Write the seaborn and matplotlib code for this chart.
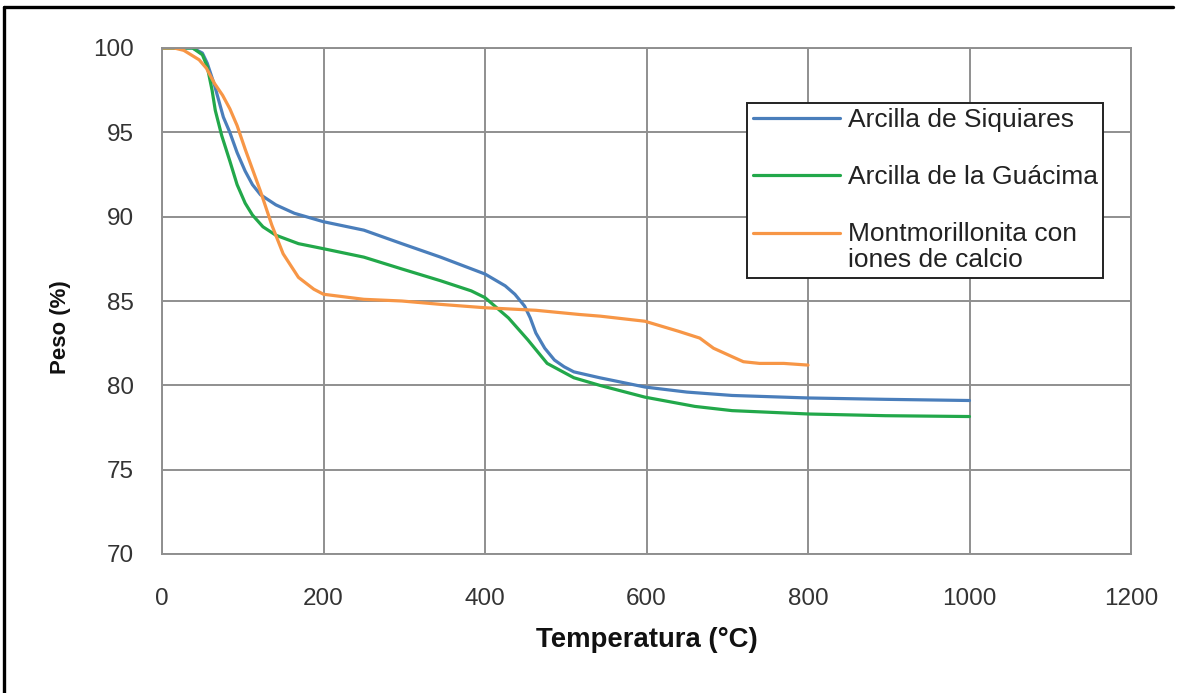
import numpy as np
import pandas as pd
import matplotlib
matplotlib.use("Agg")
import matplotlib.pyplot as plt
import seaborn as sns
from matplotlib.lines import Line2D

# ---- data ----
series_names = ["Arcilla de Siquiares", "Arcilla de la Guácima",
                "Montmorillonita con\niones de calcio"]
series_colors = ["#4a7ebb", "#22a84a", "#f79646"]

t_siquiares = [0, 20, 38, 50, 56, 65, 76, 84, 93, 103, 112, 122, 141, 164, 200, 250,
               297, 345, 400, 425, 437, 449, 456, 463, 474, 486, 498, 510, 542, 598,
               650, 706, 801, 896, 1000]
w_siquiares = [100, 100, 100, 99.7, 99.1, 97.8, 95.9, 95.0, 93.8, 92.7, 91.9, 91.3,
               90.7, 90.2, 89.7, 89.2, 88.4, 87.6, 86.6, 85.9, 85.4, 84.7, 84.0, 83.1,
               82.2, 81.5, 81.1, 80.8, 80.45, 79.9, 79.6, 79.4, 79.25, 79.17, 79.1]

t_guacima = [0, 20, 38, 50, 56, 62, 66, 74, 84, 93, 103, 112, 125, 141, 169, 200, 250,
             297, 345, 383, 400, 429, 453, 477, 510, 542, 598, 660, 706, 801, 896, 1000]
w_guacima = [100, 100, 100, 99.6, 98.9, 97.5, 96.3, 94.8, 93.3, 91.9, 90.8, 90.1,
             89.4, 88.9, 88.4, 88.1, 87.6, 86.9, 86.2, 85.6, 85.2, 84.0, 82.7, 81.3,
             80.45, 80.0, 79.3, 78.75, 78.5, 78.3, 78.2, 78.15]

t_montmo = [0, 15, 27, 46, 55, 65, 75, 84, 93, 103, 122, 136, 150, 169, 188, 200, 250,
            297, 345, 400, 463, 517, 543, 598, 612, 640, 666, 683, 706, 720, 740, 770, 800]
w_montmo = [100, 100, 99.86, 99.3, 98.8, 97.9, 97.2, 96.4, 95.4, 94.0, 91.5, 89.5,
            87.8, 86.4, 85.7, 85.4, 85.1, 85.0, 84.8, 84.6, 84.45, 84.2, 84.1, 83.8,
            83.6, 83.2, 82.8, 82.2, 81.7, 81.4, 81.3, 81.3, 81.2]

x_ticks = [0, 200, 400, 600, 800, 1000, 1200]
y_ticks = [70, 75, 80, 85, 90, 95, 100]
x_label = "Temperatura (°C)"
y_label = "Peso (%)"

df = pd.concat([
    pd.DataFrame({"T": t_siquiares, "W": w_siquiares, "Serie": series_names[0]}),
    pd.DataFrame({"T": t_guacima, "W": w_guacima, "Serie": series_names[1]}),
    pd.DataFrame({"T": t_montmo, "W": w_montmo, "Serie": series_names[2]}),
], ignore_index=True)

# ---- style ----
sns.set_theme(style="white")
plt.rcParams["font.family"] = ["Liberation Sans", "DejaVu Sans"]

W, H = 1178, 693
fig = plt.figure(figsize=(W / 100, H / 100), dpi=100)
fig.patch.set_facecolor("white")
ax = fig.add_axes([162 / W, 1 - 554 / H, 969 / W, 506 / H])

sns.lineplot(data=df, x="T", y="W", hue="Serie", hue_order=series_names,
             palette=series_colors, linewidth=2.3, estimator=None, sort=True,
             ax=ax)

grid_c = "#8f8f8f"
ax.set_xlim(0, 1200)
ax.set_ylim(70, 100)
ax.set_xticks(x_ticks)
ax.set_yticks(y_ticks)
ax.grid(True, color=grid_c, linewidth=1.4)
ax.set_axisbelow(True)
for s in ax.spines.values():
    s.set_color(grid_c)
    s.set_linewidth(1.4)
ax.tick_params(axis="both", which="major", direction="out", length=6.5, width=1.3,
               color=grid_c, labelcolor="#333333", labelsize=17.5)
ax.tick_params(axis="x", pad=18)
ax.tick_params(axis="y", pad=13.5)

ax.set_xlabel(x_label, fontsize=19.8, fontweight="bold", color="#111111")
ax.set_ylabel(y_label, fontsize=16, fontweight="bold", color="#111111")
ax.xaxis.set_label_coords(0.5, -0.145)
ax.yaxis.set_label_coords(-0.094, 0.449)

handles, labels = ax.get_legend_handles_labels()
leg_fs = 19
leg = ax.legend(handles, labels, loc="upper right", bbox_to_anchor=(0.971, 0.891),
                borderaxespad=0, fontsize=leg_fs, frameon=True, fancybox=False,
                framealpha=1, edgecolor="#222222", handlelength=3.3,
                handletextpad=0.3, labelspacing=1.25, borderpad=0.2)
leg.get_frame().set_linewidth(1.4)
for txt in leg.get_texts():
    txt.set_color("#222222")
    txt.set_linespacing(1.1)
for ln in leg.get_lines():
    ln.set_linewidth(2.3)
# align the handle of the two-line entry with its first line
ln3 = leg.get_lines()[2]
ln3.set_ydata(np.asarray(ln3.get_ydata(), dtype=float) + 0.55 * leg_fs)

# outer border (left and top edges, as in the reference crop)
fig.add_artist(Line2D([4 / W, 4 / W], [0, 1 - 7 / H], transform=fig.transFigure,
                      color="black", linewidth=2.4))
fig.add_artist(Line2D([4 / W, 1173 / W], [1 - 7 / H, 1 - 7 / H],
                      transform=fig.transFigure, color="black", linewidth=2.4))

fig.savefig("out.png", dpi=100)
